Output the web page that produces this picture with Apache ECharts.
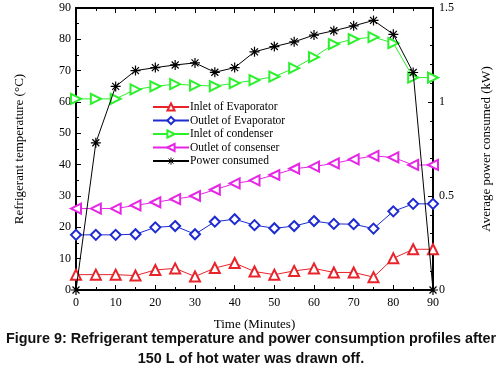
<!DOCTYPE html>
<html>
<head>
<meta charset="utf-8">
<script src="https://cdn.jsdelivr.net/npm/echarts@6/dist/echarts.min.js"></script>
<style>
  html, body { margin: 0; padding: 0; background: #fff; }
  #chart { width: 501px; height: 367px; }
</style>
</head>
<body>
<div id="chart"></div>
<script>
// Time (minutes)
const times = [0, 5, 10, 15, 20, 25, 30, 35, 40, 45, 50, 55, 60, 65, 70, 75, 80, 85, 90];

// Refrigerant temperatures (°C)
const inletEvaporator = [4.9, 4.9, 4.9, 4.6, 6.4, 6.9, 4.3, 7.0, 8.6, 5.9, 4.9, 6.1, 6.9, 5.6, 5.6, 4.1, 10.1, 13.0, 13.0];
const outletEvaporator = [17.6, 17.6, 17.6, 17.8, 20.0, 20.4, 17.8, 21.8, 22.6, 20.7, 19.7, 20.4, 22.0, 21.1, 21.0, 19.6, 25.1, 27.5, 27.5];
const inletCondenser = [61, 61, 61, 64, 65, 65.7, 65.3, 65.1, 66, 67, 68.1, 70.8, 74.3, 78.5, 80.1, 80.7, 78.8, 67.8, 67.8];
const outletCondenser = [26, 26, 26, 27, 28, 29, 30, 32, 34, 35, 36.7, 38.7, 39.4, 40.4, 41.7, 42.8, 42.3, 39.9, 39.9];

// Average power consumed (kW)
const powerConsumed = [0, 0.783, 1.083, 1.167, 1.183, 1.197, 1.208, 1.158, 1.183, 1.267, 1.295, 1.32, 1.356, 1.379, 1.405, 1.434, 1.36, 1.157, 0];

const serif = "'Liberation Serif', 'DejaVu Serif', serif";
const asterisk = 'path://M5 0 L5 10 M0 5 L10 5 M1.5 1.5 L8.5 8.5 M1.5 8.5 L8.5 1.5';

function pairs(values) {
    return times.map((t, i) => [t, values[i]]);
}

function tempSeries(name, values, color, symbol, rotate) {
    return {
        name: name,
        type: 'line',
        data: pairs(values),
        symbol: symbol,
        symbolSize: 10,
        symbolRotate: rotate || 0,
        showAllSymbol: true,
        itemStyle: { color: color, borderWidth: 1 },
        lineStyle: { color: color, width: 1 },
        z: 3
    };
}

const axisLine = { show: true, onZero: false, lineStyle: { color: '#000', width: 2 } };
const tick = { show: true, inside: true, length: 5, lineStyle: { color: '#000' } };
const minor = { show: true, length: 3, lineStyle: { color: '#000' } };
const label = { color: '#000', fontFamily: serif, fontSize: 12 };

const chart = echarts.init(document.getElementById('chart'), null, { renderer: 'canvas' });

const option = {
    backgroundColor: '#fff',
    animation: false,
    grid: { left: 76, right: 67, top: 8, bottom: 77 },
    title: {
        text: 'Figure 9: Refrigerant temperature and power consumption profiles after\n150 L of hot water was drawn off.',
        left: 251,
        top: 329,
        padding: 0,
        textAlign: 'center',
        textStyle: {
            fontFamily: "'Liberation Sans', Arial, sans-serif",
            fontWeight: 'bold',
            fontSize: 14.4,
            lineHeight: 20,
            color: '#111',
            align: 'center'
        }
    },
    legend: {
        orient: 'vertical',
        left: 147,
        top: 96,
        itemWidth: 36,
        itemHeight: 9,
        itemGap: 1.5,
        textStyle: { fontFamily: serif, fontSize: 11.5, lineHeight: 11, color: '#000', padding: [0, 0, 0, -4] },
        data: [
            'Inlet of Evaporator',
            'Outlet of Evaporator',
            'Inlet of condenser',
            'Outlet of consenser',
            { name: 'Power consumed', itemStyle: { color: 'none', borderColor: '#000', borderWidth: 1 } }
        ]
    },
    xAxis: [
        {
            type: 'value',
            min: 0,
            max: 90,
            interval: 10,
            name: 'Time (Minutes)',
            nameLocation: 'middle',
            nameGap: 28,
            nameTextStyle: { fontFamily: serif, fontSize: 13, color: '#000' },
            axisLine: axisLine,
            axisTick: tick,
            minorTick: Object.assign({ splitNumber: 2 }, minor),
            axisLabel: Object.assign({ margin: 7 }, label),
            splitLine: { show: false }
        },
        {
            type: 'value',
            position: 'top',
            min: 0,
            max: 90,
            interval: 10,
            axisLine: axisLine,
            axisTick: tick,
            minorTick: Object.assign({ splitNumber: 2 }, minor),
            axisLabel: { show: false },
            splitLine: { show: false }
        }
    ],
    yAxis: [
        {
            type: 'value',
            min: 0,
            max: 90,
            interval: 10,
            name: 'Refrigerant temperature (°C)',
            nameLocation: 'middle',
            nameGap: 50,
            nameTextStyle: { fontFamily: serif, fontSize: 13, color: '#000' },
            axisLine: axisLine,
            axisTick: tick,
            minorTick: Object.assign({ splitNumber: 2 }, minor),
            axisLabel: Object.assign({ margin: 5 }, label),
            splitLine: { show: false }
        },
        {
            type: 'value',
            position: 'right',
            min: 0,
            max: 1.5,
            interval: 0.5,
            name: 'Average power consumed (kW)',
            nameLocation: 'middle',
            nameGap: 47,
            nameTextStyle: { fontFamily: serif, fontSize: 13, color: '#000' },
            axisLine: axisLine,
            axisTick: tick,
            minorTick: Object.assign({ splitNumber: 5 }, minor),
            axisLabel: Object.assign({ margin: 6 }, label),
            splitLine: { show: false }
        }
    ],
    series: [
        tempSeries('Inlet of Evaporator', inletEvaporator, '#e8232a', 'emptyTriangle'),
        tempSeries('Outlet of Evaporator', outletEvaporator, '#1e2bd0', 'emptyDiamond'),
        tempSeries('Inlet of condenser', inletCondenser, '#2cf02c', 'emptyTriangle', -90),
        tempSeries('Outlet of consenser', outletCondenser, '#e526e5', 'emptyTriangle', 90),
        {
            name: 'Power consumed',
            type: 'line',
            yAxisIndex: 1,
            data: pairs(powerConsumed),
            symbol: asterisk,
            symbolSize: 10,
            showAllSymbol: true,
            itemStyle: { color: '#000', borderColor: '#000', borderWidth: 1.2 },
            lineStyle: { color: '#000', width: 1 },
            z: 4
        }
    ]
};

chart.setOption(option);
window.addEventListener('resize', chart.resize);
</script>
</body>
</html>
